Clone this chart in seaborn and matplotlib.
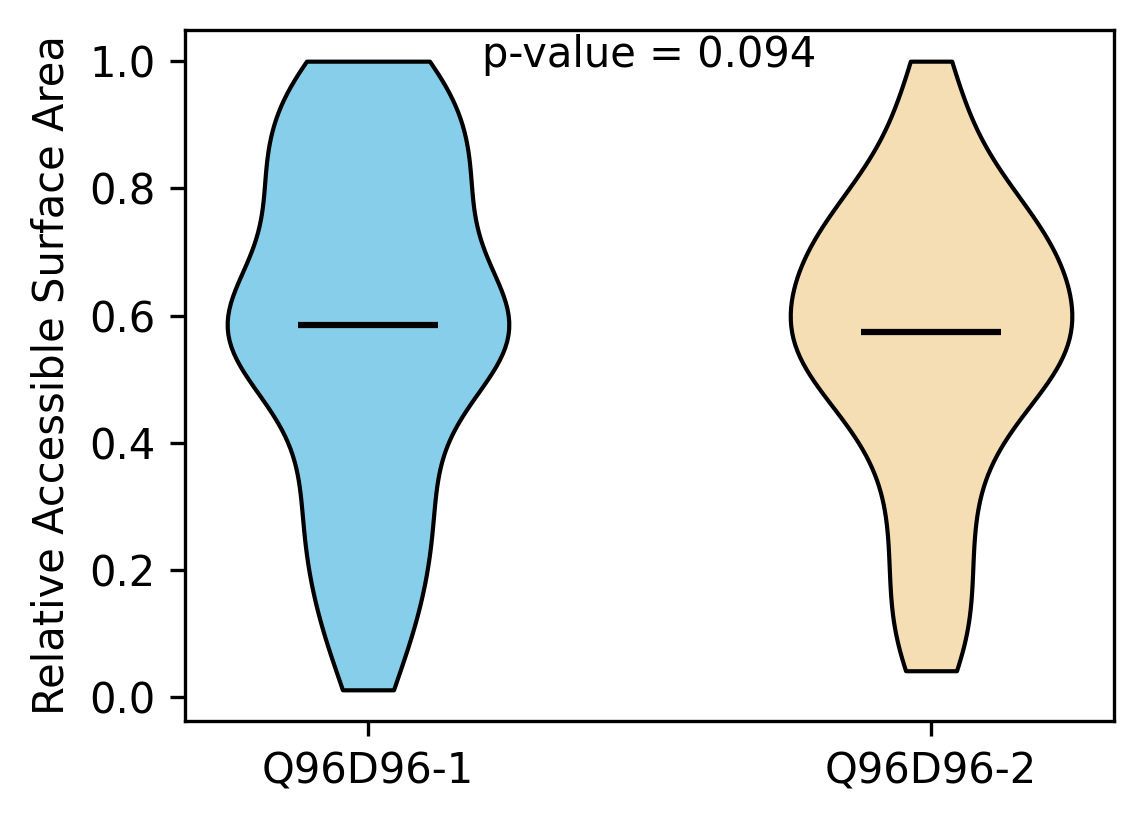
import numpy as np
import pandas as pd
import matplotlib
matplotlib.use('Agg')
import matplotlib.pyplot as plt
import seaborn as sns

# Datos (RSA por grupo), leidos aproximadamente de la figura
grupos = ['Q96D96-1', 'Q96D96-2']
rsa_grupo1 = [0.012, 0.07, 0.11, 0.15, 0.18, 0.21, 0.24, 0.27, 0.30, 0.32,
              0.35, 0.38, 0.42, 0.45, 0.47, 0.49, 0.51, 0.53, 0.54, 0.55,
              0.56, 0.57, 0.575, 0.58, 0.586, 0.60, 0.61, 0.62, 0.63, 0.65,
              0.67, 0.69, 0.71, 0.74, 0.76, 0.78, 0.79, 0.81, 0.83, 0.84,
              0.86, 0.88, 0.90, 0.92, 0.94, 0.96, 0.98, 1.0, 1.0]
rsa_grupo2 = [0.042, 0.08, 0.12, 0.16, 0.20, 0.24, 0.28, 0.32, 0.36, 0.39,
              0.42, 0.44, 0.46, 0.48, 0.49, 0.50, 0.52, 0.53, 0.54, 0.55,
              0.56, 0.57, 0.575, 0.58, 0.60, 0.61, 0.62, 0.64, 0.65, 0.66,
              0.67, 0.68, 0.70, 0.71, 0.72, 0.73, 0.74, 0.76, 0.78, 0.80,
              0.82, 0.85, 0.89, 0.94, 1.0]
colores = ['skyblue', 'wheat']
p_valor = 0.094

df = pd.DataFrame({
    'grupo': [grupos[0]] * len(rsa_grupo1) + [grupos[1]] * len(rsa_grupo2),
    'rsa': rsa_grupo1 + rsa_grupo2,
})

fig, ax = plt.subplots(figsize=(1144 / 300, 824 / 300), dpi=300)
fig.subplots_adjust(left=0.1617, right=0.9738, top=0.9636, bottom=0.125)

sns.violinplot(data=df, x='grupo', y='rsa', hue='grupo', palette=colores,
               order=grupos, hue_order=grupos, cut=0, inner=None, width=0.5,
               density_norm='width', bw_adjust=0.75, saturation=1,
               linecolor='black', linewidth=1, legend=False, ax=ax)

# Medianas
medianas = [np.median(rsa_grupo1), np.median(rsa_grupo2)]
for i, m in enumerate(medianas):
    ax.hlines(m, i - 0.125, i + 0.125, colors='black', linewidth=1.5)

ax.set_xlim(-0.325, 1.325)
ax.set_ylim(-0.037, 1.049)
ax.set_yticks([0.0, 0.2, 0.4, 0.6, 0.8, 1.0])
ax.set_xlabel('')
ax.set_ylabel('Relative Accessible Surface Area')
ax.text(0.5, 1.01, f'p-value = {p_valor}', ha='center', va='center')

plt.savefig('out.png', dpi=300)
